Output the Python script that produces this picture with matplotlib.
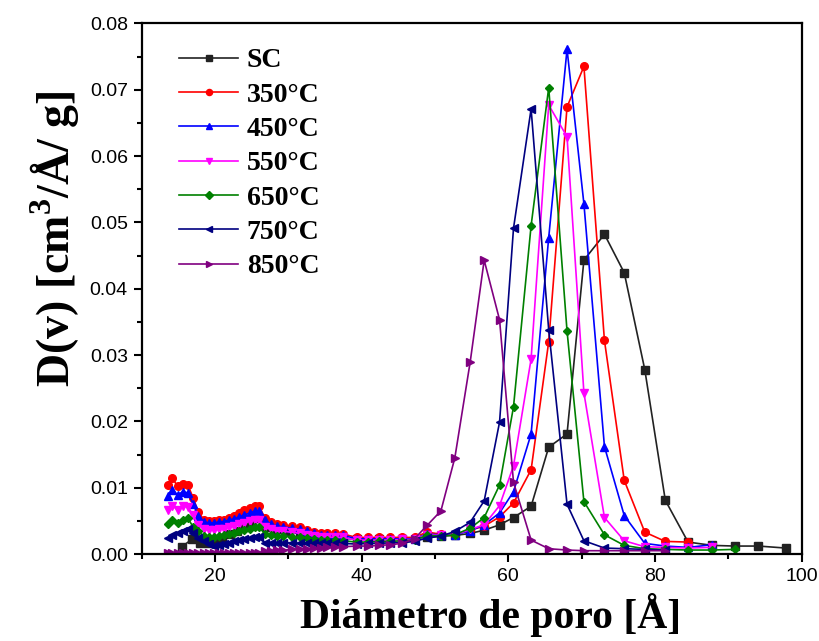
"""
Pore size distribution D(v) vs pore diameter for the carbon samples.
"""

import matplotlib
matplotlib.use("Agg")
import matplotlib.pyplot as plt
from matplotlib.ticker import MultipleLocator

# pore diameter grid [A] shared by the heat-treated samples
diam = [13.6, 14.2, 14.9, 15.6, 16.3, 17.0, 17.7, 18.5, 19.2, 19.9,
        20.5, 21.2, 21.9, 22.6, 23.3, 24.0, 24.8, 25.5, 26.0, 26.8,
        27.6, 28.4, 29.3, 30.5, 31.6, 32.6, 33.5, 34.4, 35.3, 36.4,
        37.5, 39.3, 40.9, 42.4, 43.9, 45.5, 47.2, 48.9, 50.8, 52.7,
        54.8, 56.7, 58.8, 60.7, 63.1, 65.5, 68.0, 70.3, 73.1, 75.8,
        78.6, 81.4, 84.5, 87.8, 90.9, 94.1, 97.8]

# untreated sample (SC) has its own grid
diam_sc = [15.5, 16.8, 17.9, 19.1, 20.0, 21.0, 22.0, 23.0, 24.1, 25.0,
           25.7, 27.0, 28.5, 30.0, 31.6, 33.4, 35.3, 37.5, 39.3, 42.4,
           45.5, 48.9, 50.8, 52.7, 54.8, 56.7, 58.8, 60.7, 63.1, 65.5,
           68.0, 70.3, 73.1, 75.8, 78.6, 81.4, 84.5, 87.8, 90.9, 94.1, 97.8]
dv_sc = [0.0011, 0.0022, 0.0017, 0.0016, 0.0017, 0.0024, 0.0030, 0.0034, 0.0041, 0.0049,
         0.0054, 0.0040, 0.0037, 0.0034, 0.0030, 0.0028, 0.0026, 0.0024, 0.0022, 0.0023,
         0.0023, 0.0025, 0.0027, 0.0028, 0.0031, 0.0036, 0.0044, 0.0055, 0.0072, 0.0161,
         0.0181, 0.0443, 0.0482, 0.0424, 0.0278, 0.0081, 0.0018, 0.0013, 0.0012, 0.0012, 0.0009]

dv_350 = [0.0104, 0.0114, 0.0102, 0.0106, 0.0104, 0.0085, 0.0064, 0.0051, 0.0050, 0.0050,
          0.0051, 0.0052, 0.0055, 0.0057, 0.0062, 0.0066, 0.0070, 0.0073, 0.0073, 0.0054,
          0.0048, 0.0045, 0.0044, 0.0042, 0.0040, 0.0036, 0.0033, 0.0031, 0.0031, 0.0031,
          0.0030, 0.0025, 0.0025, 0.0025, 0.0025, 0.0025, 0.0025, 0.0033, 0.0030, 0.0029,
          0.0036, 0.0042, 0.0056, 0.0077, 0.0127, 0.0320, 0.0674, 0.0735, 0.0322, 0.0111,
          0.0033, 0.0019, 0.0018]

dv_450 = [0.0087, 0.0097, 0.0089, 0.0094, 0.0092, 0.0076, 0.0057, 0.0048, 0.0047, 0.0047,
          0.0048, 0.0049, 0.0051, 0.0053, 0.0056, 0.0059, 0.0062, 0.0065, 0.0065, 0.0051,
          0.0045, 0.0042, 0.0041, 0.0039, 0.0037, 0.0034, 0.0031, 0.0029, 0.0029, 0.0028,
          0.0028, 0.0023, 0.0023, 0.0023, 0.0023, 0.0023, 0.0023, 0.0030, 0.0029, 0.0029,
          0.0035, 0.0044, 0.0062, 0.0094, 0.0181, 0.0477, 0.0761, 0.0528, 0.0162, 0.0058,
          0.0016, 0.0012, 0.0010, 0.0014]

dv_550 = [0.0067, 0.0073, 0.0066, 0.0072, 0.0071, 0.0059, 0.0044, 0.0037, 0.0036, 0.0036,
          0.0037, 0.0038, 0.0040, 0.0042, 0.0045, 0.0047, 0.0050, 0.0052, 0.0052, 0.0040,
          0.0037, 0.0035, 0.0034, 0.0033, 0.0031, 0.0029, 0.0027, 0.0026, 0.0026, 0.0025,
          0.0025, 0.0021, 0.0021, 0.0021, 0.0021, 0.0022, 0.0022, 0.0029, 0.0028, 0.0029,
          0.0037, 0.0044, 0.0073, 0.0133, 0.0294, 0.0677, 0.0629, 0.0243, 0.0055, 0.0020,
          0.0011, 0.0010, 0.0009, 0.0010]

dv_650 = [0.0045, 0.0052, 0.0047, 0.0051, 0.0054, 0.0041, 0.0034, 0.0027, 0.0026, 0.0026,
          0.0027, 0.0028, 0.0030, 0.0032, 0.0034, 0.0036, 0.0038, 0.0041, 0.0041, 0.0030,
          0.0028, 0.0027, 0.0027, 0.0026, 0.0025, 0.0024, 0.0022, 0.0021, 0.0021, 0.0021,
          0.0020, 0.0018, 0.0018, 0.0019, 0.0019, 0.0020, 0.0021, 0.0028, 0.0027, 0.0029,
          0.0039, 0.0055, 0.0104, 0.0222, 0.0495, 0.0703, 0.0336, 0.0079, 0.0029, 0.0013,
          0.0008, 0.0007, 0.0006, 0.0006, 0.0007]

dv_750 = [0.0024, 0.0029, 0.0032, 0.0035, 0.0037, 0.0031, 0.0024, 0.0019, 0.0015, 0.0012,
          0.0013, 0.0015, 0.0017, 0.0019, 0.0021, 0.0022, 0.0024, 0.0026, 0.0026, 0.0017,
          0.0017, 0.0017, 0.0017, 0.0017, 0.0016, 0.0016, 0.0016, 0.0016, 0.0016, 0.0016,
          0.0016, 0.0015, 0.0016, 0.0016, 0.0017, 0.0017, 0.0019, 0.0024, 0.0027, 0.0034,
          0.0048, 0.0080, 0.0199, 0.0491, 0.0671, 0.0338, 0.0075, 0.0020, 0.0009, 0.0008,
          0.0007, 0.0006]

dv_850 = [0.0002, 0.0002, 0.0002, 0.0002, 0.0002, 0.0002, 0.0002, 0.0001, 0.0001, 0.0001,
          0.0001, 0.0001, 0.0001, 0.0001, 0.0001, 0.0001, 0.0002, 0.0002, 0.0002, 0.0004,
          0.0005, 0.0006, 0.0006, 0.0007, 0.0008, 0.0008, 0.0009, 0.0009, 0.0010, 0.0010,
          0.0011, 0.0012, 0.0012, 0.0013, 0.0014, 0.0016, 0.0023, 0.0043, 0.0065, 0.0145,
          0.0290, 0.0443, 0.0353, 0.0108, 0.0021, 0.0008, 0.0006, 0.0005, 0.0005, 0.0005,
          0.0005, 0.0005]

labels = ["SC", "350°C", "450°C", "550°C", "650°C", "750°C", "850°C"]

plt.rcParams["mathtext.fontset"] = "custom"
plt.rcParams["mathtext.rm"] = "Liberation Serif:bold"
plt.rcParams["mathtext.bf"] = "Liberation Serif:bold"

fig = plt.figure(figsize=(8.2, 6.41), dpi=100)
ax = fig.add_axes([0.1728, 0.1357, 0.8049, 0.8279])

series = [(diam_sc, dv_sc, "#222222", "s", 5.5),
          (diam, dv_350, "#FF0000", "o", 5.5),
          (diam, dv_450, "#0000FF", "^", 6),
          (diam, dv_550, "#FF00FF", "v", 6),
          (diam, dv_650, "#008000", "D", 4.5),
          (diam, dv_750, "#000080", "<", 6),
          (diam, dv_850, "#800080", ">", 6)]

for (xs, ys, col, mk, ms), lab in zip(series, labels):
    ax.plot(xs[:len(ys)], ys, color=col, marker=mk, markersize=ms,
            linewidth=1.2, label=lab)

ax.set_xlim(10, 100)
ax.set_ylim(0, 0.08)
ax.xaxis.set_major_locator(MultipleLocator(20))
ax.xaxis.set_minor_locator(MultipleLocator(10))
ax.yaxis.set_major_locator(MultipleLocator(0.01))
ax.yaxis.set_minor_locator(MultipleLocator(0.005))
ax.yaxis.set_major_formatter(plt.FormatStrFormatter("%.2f"))

for sp in ax.spines.values():
    sp.set_linewidth(1.6)
ax.tick_params(which="major", direction="out", length=6, width=1.5,
               labelsize=14, pad=4)
ax.tick_params(which="minor", direction="out", length=3.5, width=1.5)
for t in ax.get_xticklabels() + ax.get_yticklabels():
    t.set_fontfamily("Liberation Sans")

ax.set_xlabel("Diámetro de poro [Å]", fontsize=30, fontweight="bold",
              family="Liberation Serif")
ax.xaxis.set_label_coords(0.528, -0.073)
ax.set_ylabel("D(v) [cm$^\\mathrm{3}$/Å/ g]", fontsize=33, fontweight="bold",
              family="Liberation Serif")
ax.yaxis.set_label_coords(-0.091, 0.595)

leg = ax.legend(loc="upper left", bbox_to_anchor=(0.032, 0.985), frameon=False,
                prop={"family": "Liberation Serif", "weight": "bold", "size": 20},
                handlelength=2.1, labelspacing=0.32, handletextpad=0.32,
                markerscale=0.8, borderaxespad=0.2)

fig.savefig("out.png", dpi=100)
